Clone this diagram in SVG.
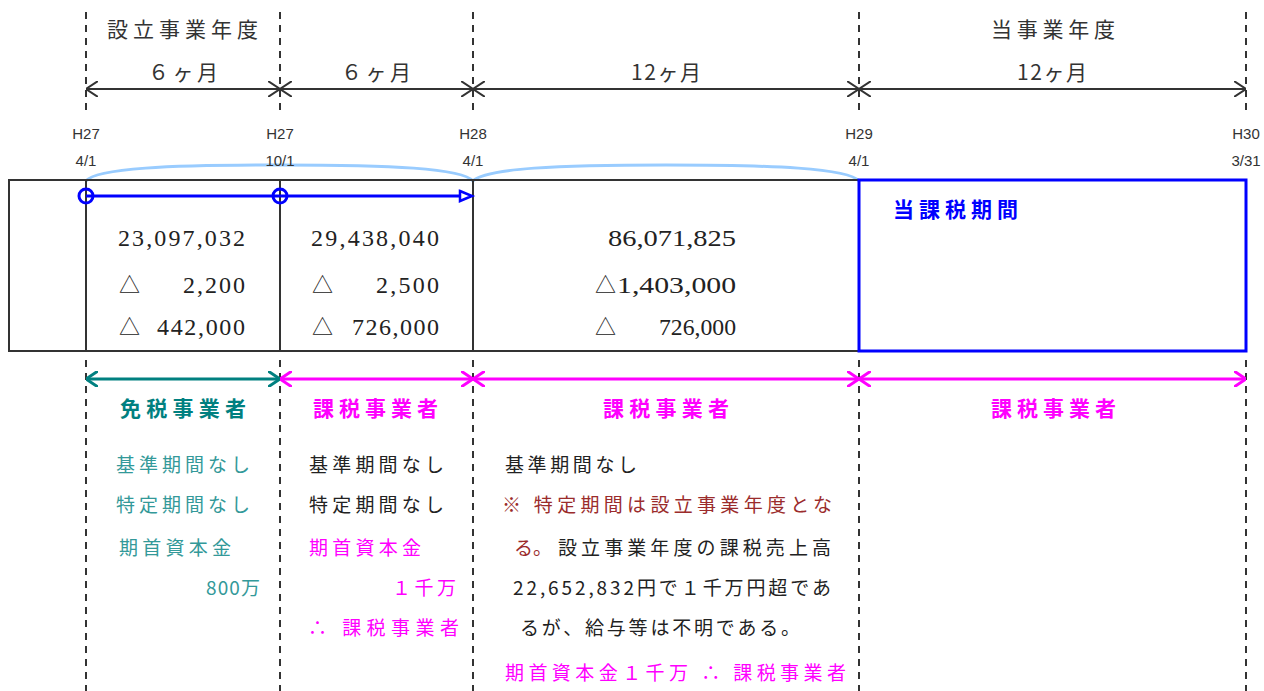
<svg xmlns="http://www.w3.org/2000/svg" width="1264" height="691" viewBox="0 0 1264 691">
<style>
.jp{font-family:"Noto Sans CJK JP","Liberation Serif",sans-serif;}
.num{font-family:"Liberation Serif","Noto Sans CJK JP",serif;font-size:24px;fill:#222;}
.tri{font-family:"Noto Sans CJK JP",sans-serif;font-size:21px;fill:#222;}
.dt{font-family:"Liberation Sans","DejaVu Sans",sans-serif;font-size:15px;fill:#333;text-anchor:middle;}
.dash{stroke:#333;stroke-width:2;stroke-dasharray:7 6;fill:none;}
.dim{stroke:#333;stroke-width:2;fill:none;}
.hd{font-size:21px;fill:#333;}
.body{font-size:19px;}
.ttl{font-size:21px;font-weight:bold;}
</style>
<defs>
<marker id="ah" viewBox="0 0 12 16" refX="12" refY="8" markerWidth="12" markerHeight="16" markerUnits="userSpaceOnUse" orient="auto-start-reverse"><path d="M0,0 L12,8 L0,16" fill="none" stroke="#333" stroke-width="2"/></marker>
<marker id="aht" viewBox="0 0 12 16" refX="12" refY="8" markerWidth="12" markerHeight="16" markerUnits="userSpaceOnUse" orient="auto-start-reverse"><path d="M0,0 L12,8 L0,16" fill="none" stroke="#008080" stroke-width="3"/></marker>
<marker id="ahm" viewBox="0 0 12 16" refX="12" refY="8" markerWidth="12" markerHeight="16" markerUnits="userSpaceOnUse" orient="auto-start-reverse"><path d="M0,0 L12,8 L0,16" fill="none" stroke="#ff00ff" stroke-width="3"/></marker>
</defs>
<rect width="1264" height="691" fill="#fff"/>

<g id="gridlines">
<path class="dash" d="M86,12V110M280,12V110M473,12V110M859,12V110M1246,12V110"/>
<path class="dash" d="M86,360V691M280,360V691M473,360V691M859,360V691M1246,360V691"/>
</g>

<g id="headers" class="jp">
<text class="hd" x="107" y="37" textLength="151" lengthAdjust="spacing">設立事業年度</text>
<text class="hd" x="991" y="37" textLength="124" lengthAdjust="spacing">当事業年度</text>
<text class="hd" x="148" y="80" textLength="70" lengthAdjust="spacing">６ヶ月</text>
<text class="hd" x="341" y="80" textLength="70" lengthAdjust="spacing">６ヶ月</text>
<text class="hd" x="631" y="80" textLength="70" lengthAdjust="spacing">12ヶ月</text>
<text class="hd" x="1017" y="80" textLength="70" lengthAdjust="spacing">12ヶ月</text>
</g>

<g id="connectors">
<line class="dim" x1="86" y1="89" x2="280" y2="89" marker-start="url(#ah)" marker-end="url(#ah)"/>
<line class="dim" x1="280" y1="89" x2="473" y2="89" marker-start="url(#ah)" marker-end="url(#ah)"/>
<line class="dim" x1="473" y1="89" x2="859" y2="89" marker-start="url(#ah)" marker-end="url(#ah)"/>
<line class="dim" x1="859" y1="89" x2="1246" y2="89" marker-start="url(#ah)" marker-end="url(#ah)"/>
<path d="M86,181 C96,168 170,165 280,165 C390,165 462,168 473,181" fill="none" stroke="#99ccff" stroke-width="3"/>
<path d="M473,181 C485,168 560,165 666,165 C772,165 848,168 859,181" fill="none" stroke="#99ccff" stroke-width="3"/>
<line x1="86" y1="379" x2="280" y2="379" stroke="#008080" stroke-width="3" marker-start="url(#aht)" marker-end="url(#aht)"/>
<line x1="280" y1="379" x2="473" y2="379" stroke="#ff00ff" stroke-width="3" marker-start="url(#ahm)" marker-end="url(#ahm)"/>
<line x1="473" y1="379" x2="859" y2="379" stroke="#ff00ff" stroke-width="3" marker-start="url(#ahm)" marker-end="url(#ahm)"/>
<line x1="859" y1="379" x2="1246" y2="379" stroke="#ff00ff" stroke-width="3" marker-start="url(#ahm)" marker-end="url(#ahm)"/>
</g>

<g id="dates">
<text class="dt" x="86" y="139">H27</text><text class="dt" x="86" y="166">4/1</text>
<text class="dt" x="280" y="139">H27</text><text class="dt" x="280" y="166">10/1</text>
<text class="dt" x="473" y="139">H28</text><text class="dt" x="473" y="166">4/1</text>
<text class="dt" x="859" y="139">H29</text><text class="dt" x="859" y="166">4/1</text>
<text class="dt" x="1246" y="139">H30</text><text class="dt" x="1246" y="166">3/31</text>
</g>

<g id="table">
<rect x="9" y="180" width="850" height="171" fill="none" stroke="#333" stroke-width="2"/>
<path d="M86,180V351M280,180V351M473,180V351" stroke="#333" stroke-width="2"/>
</g>

<g id="current-period">
<rect x="859" y="180" width="387" height="171" fill="none" stroke="#0000ff" stroke-width="3"/>
<text class="jp" x="893" y="217" font-size="21" font-weight="bold" fill="#0000ff" textLength="125" lengthAdjust="spacing">当課税期間</text>
</g>

<g id="blue-arrow">
<line x1="86" y1="196" x2="461" y2="196" stroke="#0000ff" stroke-width="3"/>
<circle cx="86" cy="196" r="7" fill="none" stroke="#0000ff" stroke-width="3"/>
<circle cx="280" cy="196" r="7" fill="none" stroke="#0000ff" stroke-width="3"/>
<polygon points="460,191 472,196 460,201" fill="#fff" stroke="#0000ff" stroke-width="2.5"/>
</g>

<g id="col1-values">
<text class="num" x="118" y="246" textLength="127" lengthAdjust="spacing">23,097,032</text>
<text class="tri" x="119" y="292">△</text>
<text class="num" x="183" y="293" textLength="62" lengthAdjust="spacing">2,200</text>
<text class="tri" x="119" y="334">△</text>
<text class="num" x="157" y="335" textLength="88" lengthAdjust="spacing">442,000</text>
</g>
<g id="col2-values">
<text class="num" x="311" y="246" textLength="128" lengthAdjust="spacing">29,438,040</text>
<text class="tri" x="312" y="292">△</text>
<text class="num" x="376" y="293" textLength="63" lengthAdjust="spacing">2,500</text>
<text class="tri" x="312" y="334">△</text>
<text class="num" x="352" y="335" textLength="87" lengthAdjust="spacing">726,000</text>
</g>
<g id="col3-values">
<text class="num" x="608" y="246" textLength="128" lengthAdjust="spacingAndGlyphs">86,071,825</text>
<text class="tri" x="595" y="292">△</text>
<text class="num" x="617" y="293" textLength="119" lengthAdjust="spacingAndGlyphs">1,403,000</text>
<text class="tri" x="595" y="334">△</text>
<text class="num" x="659" y="335" textLength="77" lengthAdjust="spacingAndGlyphs">726,000</text>
</g>

<g id="col1-status" class="jp">
<text class="ttl" x="120" y="416" fill="#008080" textLength="126" lengthAdjust="spacing">免税事業者</text>
<text class="body" x="116" y="472" fill="#339999" textLength="134" lengthAdjust="spacing">基準期間なし</text>
<text class="body" x="116" y="512" fill="#339999" textLength="134" lengthAdjust="spacing">特定期間なし</text>
<text class="body" x="119" y="555" fill="#339999" textLength="112" lengthAdjust="spacing">期首資本金</text>
<text class="body" x="206" y="595" fill="#339999" textLength="54" lengthAdjust="spacing">800万</text>
</g>

<g id="col2-status" class="jp">
<text class="ttl" x="313" y="416" fill="#ff00ff" textLength="125" lengthAdjust="spacing">課税事業者</text>
<text class="body" x="309" y="472" fill="#222" textLength="135" lengthAdjust="spacing">基準期間なし</text>
<text class="body" x="309" y="512" fill="#222" textLength="135" lengthAdjust="spacing">特定期間なし</text>
<text class="body" x="309" y="555" fill="#ff00ff" textLength="112" lengthAdjust="spacing">期首資本金</text>
<text class="body" x="392" y="595" fill="#ff00ff" textLength="64" lengthAdjust="spacing">１千万</text>
<text class="body" x="308" y="635" fill="#ff00ff" textLength="151" lengthAdjust="spacing">∴ 課税事業者</text>
</g>

<g id="col3-status" class="jp">
<text class="ttl" x="603" y="416" fill="#ff00ff" textLength="126" lengthAdjust="spacing">課税事業者</text>
<text class="body" x="505" y="472" fill="#222" textLength="132" lengthAdjust="spacing">基準期間なし</text>
<text class="body" x="502" y="512" fill="#9b2c2c" textLength="330" lengthAdjust="spacing">※ 特定期間は設立事業年度とな</text>
<text class="body" x="514" y="555" fill="#9b2c2c" textLength="38" lengthAdjust="spacing">る。</text>
<text class="body" x="558" y="555" fill="#222" textLength="273" lengthAdjust="spacing">設立事業年度の課税売上高</text>
<text class="body" x="513" y="595" fill="#222" textLength="318" lengthAdjust="spacing">22,652,832円で１千万円超であ</text>
<text class="body" x="520" y="635" fill="#222" textLength="280" lengthAdjust="spacing">るが、給与等は不明である。</text>
<text class="body" x="505" y="680" fill="#ff00ff" textLength="341" lengthAdjust="spacing">期首資本金１千万 ∴ 課税事業者</text>
</g>

<g id="col4-status" class="jp">
<text class="ttl" x="991" y="416" fill="#ff00ff" textLength="125" lengthAdjust="spacing">課税事業者</text>
</g>
</svg>
